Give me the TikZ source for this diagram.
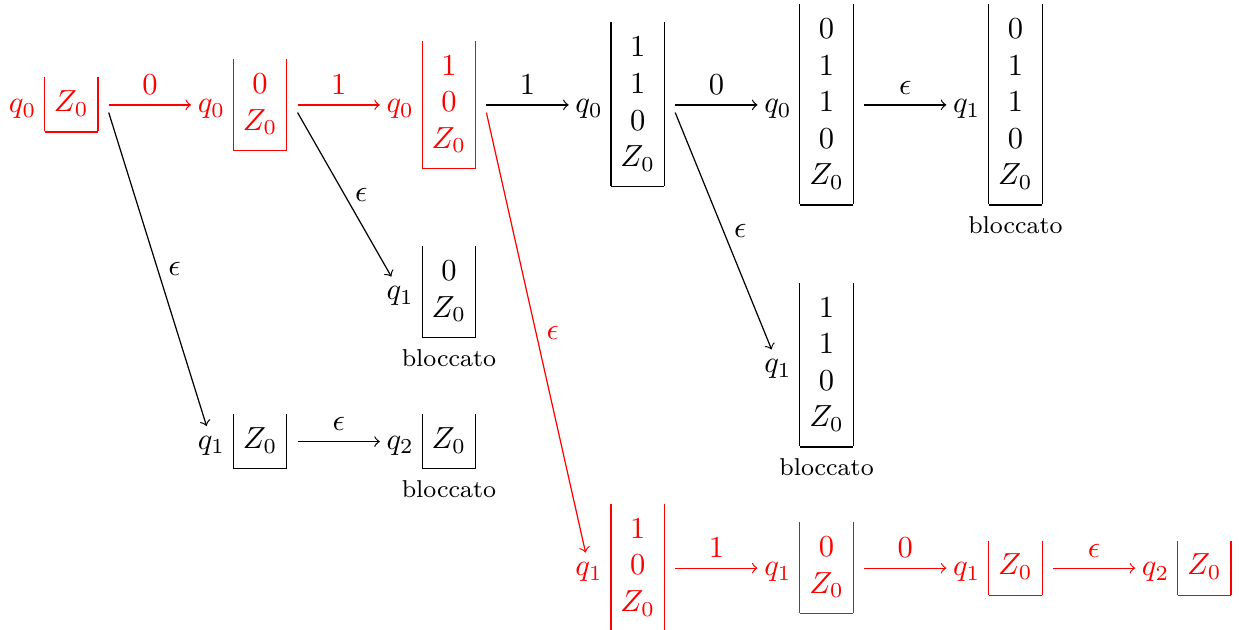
\documentclass[tikz,border=0pt]{standalone}
\usetikzlibrary{positioning}

\setlength{\arraycolsep}{3.1pt}
\newcommand{\pila}[1]{$\begin{array}{|c|}\rule{0pt}{11.3pt}#1\rule[-6.4pt]{0pt}{0pt}\\\hline\end{array}$}

\begin{document}
\begin{tikzpicture}[
    node distance=27pt,
    stato/.style={inner xsep=2pt, inner ysep=2.4pt, text height=5pt, text depth=0pt},
    pilabox/.style={inner sep=3.33pt},
    mossa/.style={->},
    bloc/.style={font=\footnotesize, inner sep=0pt}
]
\useasboundingbox (-7.4pt,-172.1pt) rectangle (398.9pt,34.4pt);

% Main row
\node[stato, red] (s1) {$q_0$};
\node[pilabox, red, right=-3pt of s1] (p1) {\pila{Z_0}};
\node[stato, red, right=of p1] (s2) {$q_0$};
\node[pilabox, red, right=-3pt of s2] (p2) {\pila{0\\Z_0}};
\node[stato, red, right=of p2] (s3) {$q_0$};
\node[pilabox, red, right=-3pt of s3] (p3) {\pila{1\\0\\Z_0}};
\node[stato, right=of p3] (s4) {$q_0$};
\node[pilabox, right=-3pt of s4] (p4) {\pila{1\\1\\0\\Z_0}};
\node[stato, right=of p4] (s5) {$q_0$};
\node[pilabox, right=-3pt of s5] (p5) {\pila{0\\1\\1\\0\\Z_0}};
\node[stato, right=of p5] (s6) {$q_1$};
\node[pilabox, right=-3pt of s6] (p6) {\pila{0\\1\\1\\0\\Z_0}};
\node[bloc, below=0pt of p6] (b6) {bloccato};

% Dead ends
\node[stato, below=51.2pt of s3] (s7) {$q_1$};
\node[pilabox, right=-3pt of s7] (p7) {\pila{0\\Z_0}};
\node[bloc, below=0pt of p7] (b7) {bloccato};

\node[stato, below=100.2pt of s2] (s8) {$q_1$};
\node[pilabox, right=-3pt of s8] (p8) {\pila{Z_0}};
\node[stato, right=of p8] (s9) {$q_2$};
\node[pilabox, right=-3pt of s9] (p9) {\pila{Z_0}};
\node[bloc, below=0pt of p9] (b9) {bloccato};

\node[stato, below=75.1pt of s5] (s10) {$q_1$};
\node[pilabox, right=-3pt of s10] (p10) {\pila{1\\1\\0\\Z_0}};
\node[bloc, below=0pt of p10] (b10) {bloccato};

% Accepting branch
\node[stato, red, below=141.7pt of s4] (s11) {$q_1$};
\node[pilabox, red, right=-3pt of s11] (p11) {\pila{1\\0\\Z_0}};
\node[stato, red, right=of p11] (s12) {$q_1$};
\node[pilabox, red, right=-3pt of s12] (p12) {\pila{0\\Z_0}};
\node[stato, red, right=of p12] (s13) {$q_1$};
\node[pilabox, red, right=-3pt of s13] (p13) {\pila{Z_0}};
\node[stato, red, right=of p13] (s14) {$q_2$};
\node[pilabox, red, right=-3pt of s14] (p14) {\pila{Z_0}};

% Moves
\draw[mossa, red] (p1) -- node[above] {$0$} (s2);
\draw[mossa, red] (p2) -- node[above] {$1$} (s3);
\draw[mossa] (p3) -- node[above] {$1$} (s4);
\draw[mossa] (p4) -- node[above] {$0$} (s5);
\draw[mossa] (p5) -- node[above] {$\epsilon$} (s6);

\draw[mossa] (p1.base east) -- node[right] {$\epsilon$} (s8);
\draw[mossa] (p8) -- node[above] {$\epsilon$} (s9);
\draw[mossa] (p2.base east) -- node[right] {$\epsilon$} (s7);
\draw[mossa] (p4.base east) -- node[right] {$\epsilon$} (s10);

\draw[mossa, red] (p3.base east) -- node[right] {$\epsilon$} (s11);
\draw[mossa, red] (p11) -- node[above] {$1$} (s12);
\draw[mossa, red] (p12) -- node[above] {$0$} (s13);
\draw[mossa, red] (p13) -- node[above] {$\epsilon$} (s14);

\end{tikzpicture}
\end{document}
